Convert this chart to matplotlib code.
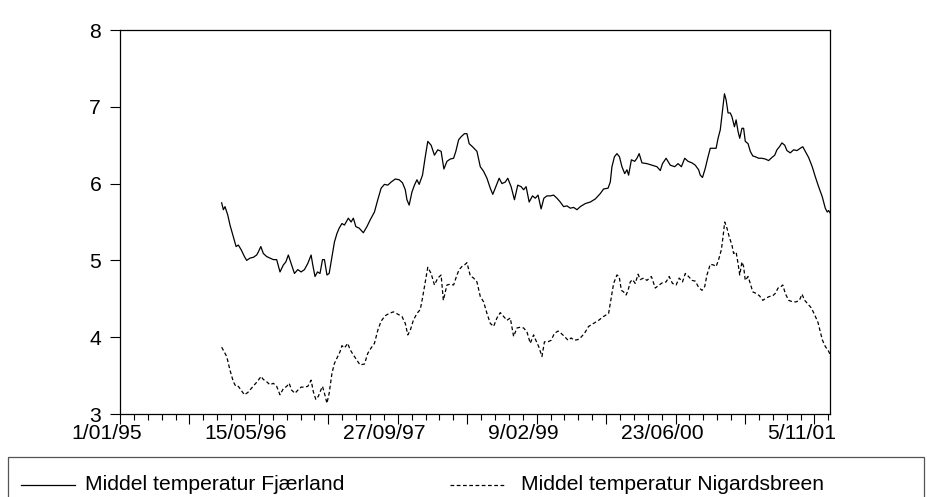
import matplotlib
matplotlib.use("Agg")
import matplotlib.pyplot as plt
import matplotlib.transforms as mtransforms
from matplotlib.ticker import MultipleLocator, FixedLocator, FixedFormatter
from matplotlib.lines import Line2D
from matplotlib.patches import Rectangle

plt.rcParams['font.family'] = ['Liberation Sans', 'DejaVu Sans']

# observation index = days since 1/01/95
fj_day = [366, 372, 378, 388, 396, 408, 418, 426, 436, 448, 456, 468, 480, 492, 498,
          507, 516, 528, 540, 552, 564, 576, 588, 597, 606, 616, 628, 640, 652, 664,
          676, 688, 694, 702, 711, 720, 729, 736, 745, 753, 763, 772, 781, 789, 799,
          808, 822, 832, 840, 849, 861, 876, 889, 901, 916, 928, 940, 952, 964, 976,
          991, 1005, 1017, 1027, 1033, 1041, 1051, 1060, 1069, 1077, 1089, 1099, 1108,
          1120, 1132, 1144, 1156, 1166, 1177, 1189, 1201, 1209, 1219, 1228, 1240, 1249,
          1257, 1269, 1285, 1297, 1309, 1321, 1333, 1342, 1353, 1365, 1375, 1387, 1396,
          1408, 1420, 1432, 1444, 1453, 1462, 1473, 1485, 1495, 1505, 1516, 1526, 1537,
          1549, 1561, 1573, 1585, 1597, 1609, 1621, 1633, 1645, 1657, 1675, 1693, 1711,
          1729, 1741, 1757, 1765, 1771, 1780, 1789, 1798, 1807, 1817, 1825, 1831, 1841,
          1853, 1861, 1869, 1879, 1897, 1915, 1933, 1945, 1953, 1966, 1981, 1997, 2009,
          2021, 2033, 2045, 2059, 2071, 2083, 2089, 2097, 2107, 2117, 2125, 2137, 2146,
          2153, 2161, 2167, 2176, 2182, 2189, 2197, 2203, 2212, 2218, 2225, 2231, 2239,
          2245, 2251, 2261, 2269, 2278, 2287, 2299, 2311, 2323, 2335, 2347, 2357, 2365,
          2374, 2383, 2393, 2401, 2413, 2425, 2437, 2449, 2458, 2467, 2479, 2492, 2503,
          2515, 2528, 2539, 2546, 2551, 2556]
fj_val = [5.75, 5.66, 5.70, 5.59, 5.46, 5.31, 5.18, 5.20, 5.14, 5.05, 5.00, 5.03, 5.04,
          5.07, 5.11, 5.18, 5.09, 5.05, 5.03, 5.01, 5.01, 4.85, 4.94, 4.98, 5.07, 4.96,
          4.83, 4.88, 4.85, 4.88, 4.96, 5.07, 4.94, 4.79, 4.85, 4.83, 5.01, 5.01, 4.81,
          4.83, 5.05, 5.24, 5.35, 5.42, 5.48, 5.46, 5.55, 5.50, 5.55, 5.44, 5.42, 5.36,
          5.44, 5.53, 5.63, 5.79, 5.94, 5.99, 5.98, 6.02, 6.06, 6.05, 6.01, 5.92, 5.79,
          5.72, 5.89, 5.98, 6.05, 5.99, 6.11, 6.35, 6.55, 6.50, 6.37, 6.44, 6.42, 6.19,
          6.29, 6.32, 6.33, 6.42, 6.57, 6.61, 6.65, 6.65, 6.52, 6.48, 6.42, 6.22, 6.16,
          6.07, 5.94, 5.86, 5.96, 6.07, 6.00, 6.02, 6.07, 5.96, 5.79, 5.98, 5.96, 5.92,
          5.96, 5.76, 5.84, 5.81, 5.85, 5.67, 5.81, 5.84, 5.84, 5.85, 5.81, 5.76, 5.70,
          5.71, 5.68, 5.69, 5.66, 5.70, 5.74, 5.76, 5.80, 5.87, 5.93, 5.94, 6.02, 6.22,
          6.35, 6.39, 6.35, 6.22, 6.13, 6.18, 6.11, 6.31, 6.29, 6.33, 6.39, 6.27, 6.26,
          6.24, 6.22, 6.17, 6.26, 6.33, 6.24, 6.22, 6.26, 6.22, 6.33, 6.29, 6.27, 6.24,
          6.18, 6.11, 6.08, 6.20, 6.35, 6.46, 6.46, 6.46, 6.59, 6.70, 6.89, 7.17, 7.09,
          6.92, 6.92, 6.87, 6.74, 6.83, 6.68, 6.59, 6.72, 6.72, 6.55, 6.52, 6.42, 6.36,
          6.35, 6.33, 6.33, 6.32, 6.30, 6.34, 6.37, 6.44, 6.48, 6.53, 6.50, 6.43, 6.40,
          6.44, 6.43, 6.46, 6.48, 6.42, 6.34, 6.22, 6.09, 5.96, 5.83, 5.68, 5.63, 5.65,
          5.62]

ng_day = [366, 375, 384, 396, 408, 417, 426, 436, 448, 460, 472, 486, 496, 508, 516,
          528, 540, 552, 564, 576, 588, 600, 609, 618, 630, 640, 652, 664, 676, 688,
          696, 705, 714, 724, 729, 736, 745, 753, 763, 772, 784, 792, 799, 808, 820,
          828, 840, 853, 864, 880, 892, 904, 916, 928, 940, 955, 969, 984, 1000, 1015,
          1027, 1036, 1045, 1056, 1069, 1081, 1089, 1099, 1108, 1120, 1132, 1144, 1156,
          1164, 1177, 1189, 1201, 1213, 1221, 1231, 1240, 1249, 1261, 1273, 1285, 1297,
          1309, 1321, 1333, 1345, 1357, 1369, 1381, 1393, 1405, 1417, 1429, 1441, 1453,
          1465, 1477, 1489, 1497, 1507, 1519, 1528, 1541, 1552, 1564, 1577, 1588, 1600,
          1613, 1624, 1636, 1649, 1657, 1672, 1687, 1705, 1723, 1741, 1759, 1769, 1777,
          1789, 1797, 1805, 1813, 1822, 1829, 1837, 1845, 1855, 1865, 1873, 1885, 1897,
          1913, 1927, 1941, 1953, 1966, 1977, 1989, 2002, 2013, 2025, 2035, 2047, 2059,
          2071, 2083, 2095, 2105, 2113, 2125, 2137, 2146, 2155, 2165, 2171, 2177, 2185,
          2193, 2203, 2209, 2218, 2225, 2231, 2239, 2245, 2251, 2261, 2269, 2278, 2290,
          2302, 2314, 2326, 2338, 2350, 2359, 2369, 2377, 2386, 2395, 2407, 2422, 2434,
          2446, 2455, 2465, 2477, 2489, 2501, 2513, 2521, 2529, 2539, 2549, 2556]
ng_val = [3.87, 3.81, 3.75, 3.57, 3.42, 3.36, 3.36, 3.31, 3.25, 3.28, 3.33, 3.39, 3.43,
          3.49, 3.45, 3.42, 3.38, 3.40, 3.36, 3.25, 3.33, 3.36, 3.40, 3.31, 3.27, 3.31,
          3.35, 3.35, 3.36, 3.44, 3.29, 3.19, 3.23, 3.32, 3.36, 3.27, 3.14, 3.27, 3.53,
          3.66, 3.75, 3.81, 3.89, 3.86, 3.92, 3.84, 3.77, 3.70, 3.64, 3.65, 3.79, 3.86,
          3.92, 4.09, 4.21, 4.28, 4.31, 4.33, 4.30, 4.27, 4.18, 4.03, 4.09, 4.22, 4.31,
          4.36, 4.51, 4.72, 4.91, 4.83, 4.68, 4.77, 4.81, 4.48, 4.68, 4.69, 4.68, 4.81,
          4.88, 4.92, 4.94, 4.97, 4.80, 4.77, 4.72, 4.53, 4.46, 4.31, 4.18, 4.14, 4.25,
          4.32, 4.27, 4.22, 4.25, 4.01, 4.12, 4.13, 4.12, 4.07, 3.92, 4.03, 3.96, 3.88,
          3.75, 3.94, 3.94, 3.96, 4.05, 4.08, 4.05, 4.01, 3.96, 3.99, 3.96, 3.97, 3.99,
          4.05, 4.14, 4.18, 4.22, 4.27, 4.31, 4.53, 4.70, 4.81, 4.79, 4.61, 4.59, 4.55,
          4.61, 4.72, 4.75, 4.70, 4.82, 4.75, 4.77, 4.74, 4.79, 4.64, 4.68, 4.71, 4.72,
          4.79, 4.70, 4.68, 4.77, 4.72, 4.83, 4.79, 4.74, 4.73, 4.65, 4.61, 4.66, 4.81,
          4.95, 4.94, 4.92, 5.01, 5.14, 5.31, 5.50, 5.42, 5.31, 5.20, 5.09, 5.11, 4.96,
          4.81, 4.98, 4.92, 4.74, 4.79, 4.70, 4.59, 4.57, 4.54, 4.48, 4.51, 4.53, 4.54,
          4.57, 4.64, 4.65, 4.68, 4.57, 4.48, 4.46, 4.46, 4.48, 4.56, 4.48, 4.43, 4.38,
          4.29, 4.19, 4.07, 3.96, 3.88, 3.83, 3.78]

tick_days = [0, 500, 1000, 1500, 2000, 2500]
tick_labels = ["1/01/95", "15/05/96", "27/09/97", "9/02/99", "23/06/00", "5/11/01"]
series_names = ["Middel temperatur Fjærland", "Middel temperatur Nigardsbreen"]

W, H = 928, 497
FS = 15.2
fig = plt.figure(figsize=(W / 100, H / 100), dpi=100)
ax = fig.add_axes([120 / W, 1 - 414 / H, 710 / W, 384 / H])

ax.plot(fj_day, fj_val, color="black", lw=0.9)
ax.plot(ng_day, ng_val, color="black", lw=0.9, dashes=(3, 2))

ax.set_xlim(0, 2556)
ax.set_ylim(3, 8)
ax.set_yticks(range(3, 9))

# long ticks every 250 obs, short every 50, labels every 500
major = list(range(0, 2557, 250))
ax.xaxis.set_major_locator(FixedLocator(major))
ax.xaxis.set_major_formatter(FixedFormatter(
    [tick_labels[tick_days.index(d)] if d in tick_days else "" for d in major]))
ax.xaxis.set_minor_locator(MultipleLocator(50))

ax.tick_params(axis="both", which="major", direction="out", length=7.5, width=0.8,
               labelsize=FS, color="black")
ax.tick_params(axis="x", which="major", pad=0)
ax.tick_params(axis="y", which="major", pad=6)
ax.tick_params(axis="x", which="minor", direction="out", length=4.5, width=0.8)
for sp in ax.spines.values():
    sp.set_linewidth(0.9)
    sp.set_color("black")

# date labels sit a little left of their ticks
shift = mtransforms.ScaledTranslation(-13 / 100, 0, fig.dpi_scale_trans)
for lab in ax.get_xticklabels():
    lab.set_transform(lab.get_transform() + shift)

# legend strip along the bottom, in pixel coordinates
px = mtransforms.Affine2D().scale(1 / W, -1 / H).translate(0, 1) + fig.transFigure
fig.patches.append(Rectangle((8, 457), 916, 45, transform=px, fill=False,
                             edgecolor="#555555", lw=0.9, clip_on=False))
fig.lines.append(Line2D([21, 75], [485, 485], transform=px, color="black", lw=0.9))
fig.text(85, 485, series_names[0], transform=px, fontsize=FS, va="center", ha="left")
fig.lines.append(Line2D([450, 506], [485, 485], transform=px, color="black", lw=0.9,
                        dashes=(3, 2)))
fig.text(521, 485, series_names[1], transform=px, fontsize=FS, va="center", ha="left")

fig.savefig("out.png", dpi=100)
